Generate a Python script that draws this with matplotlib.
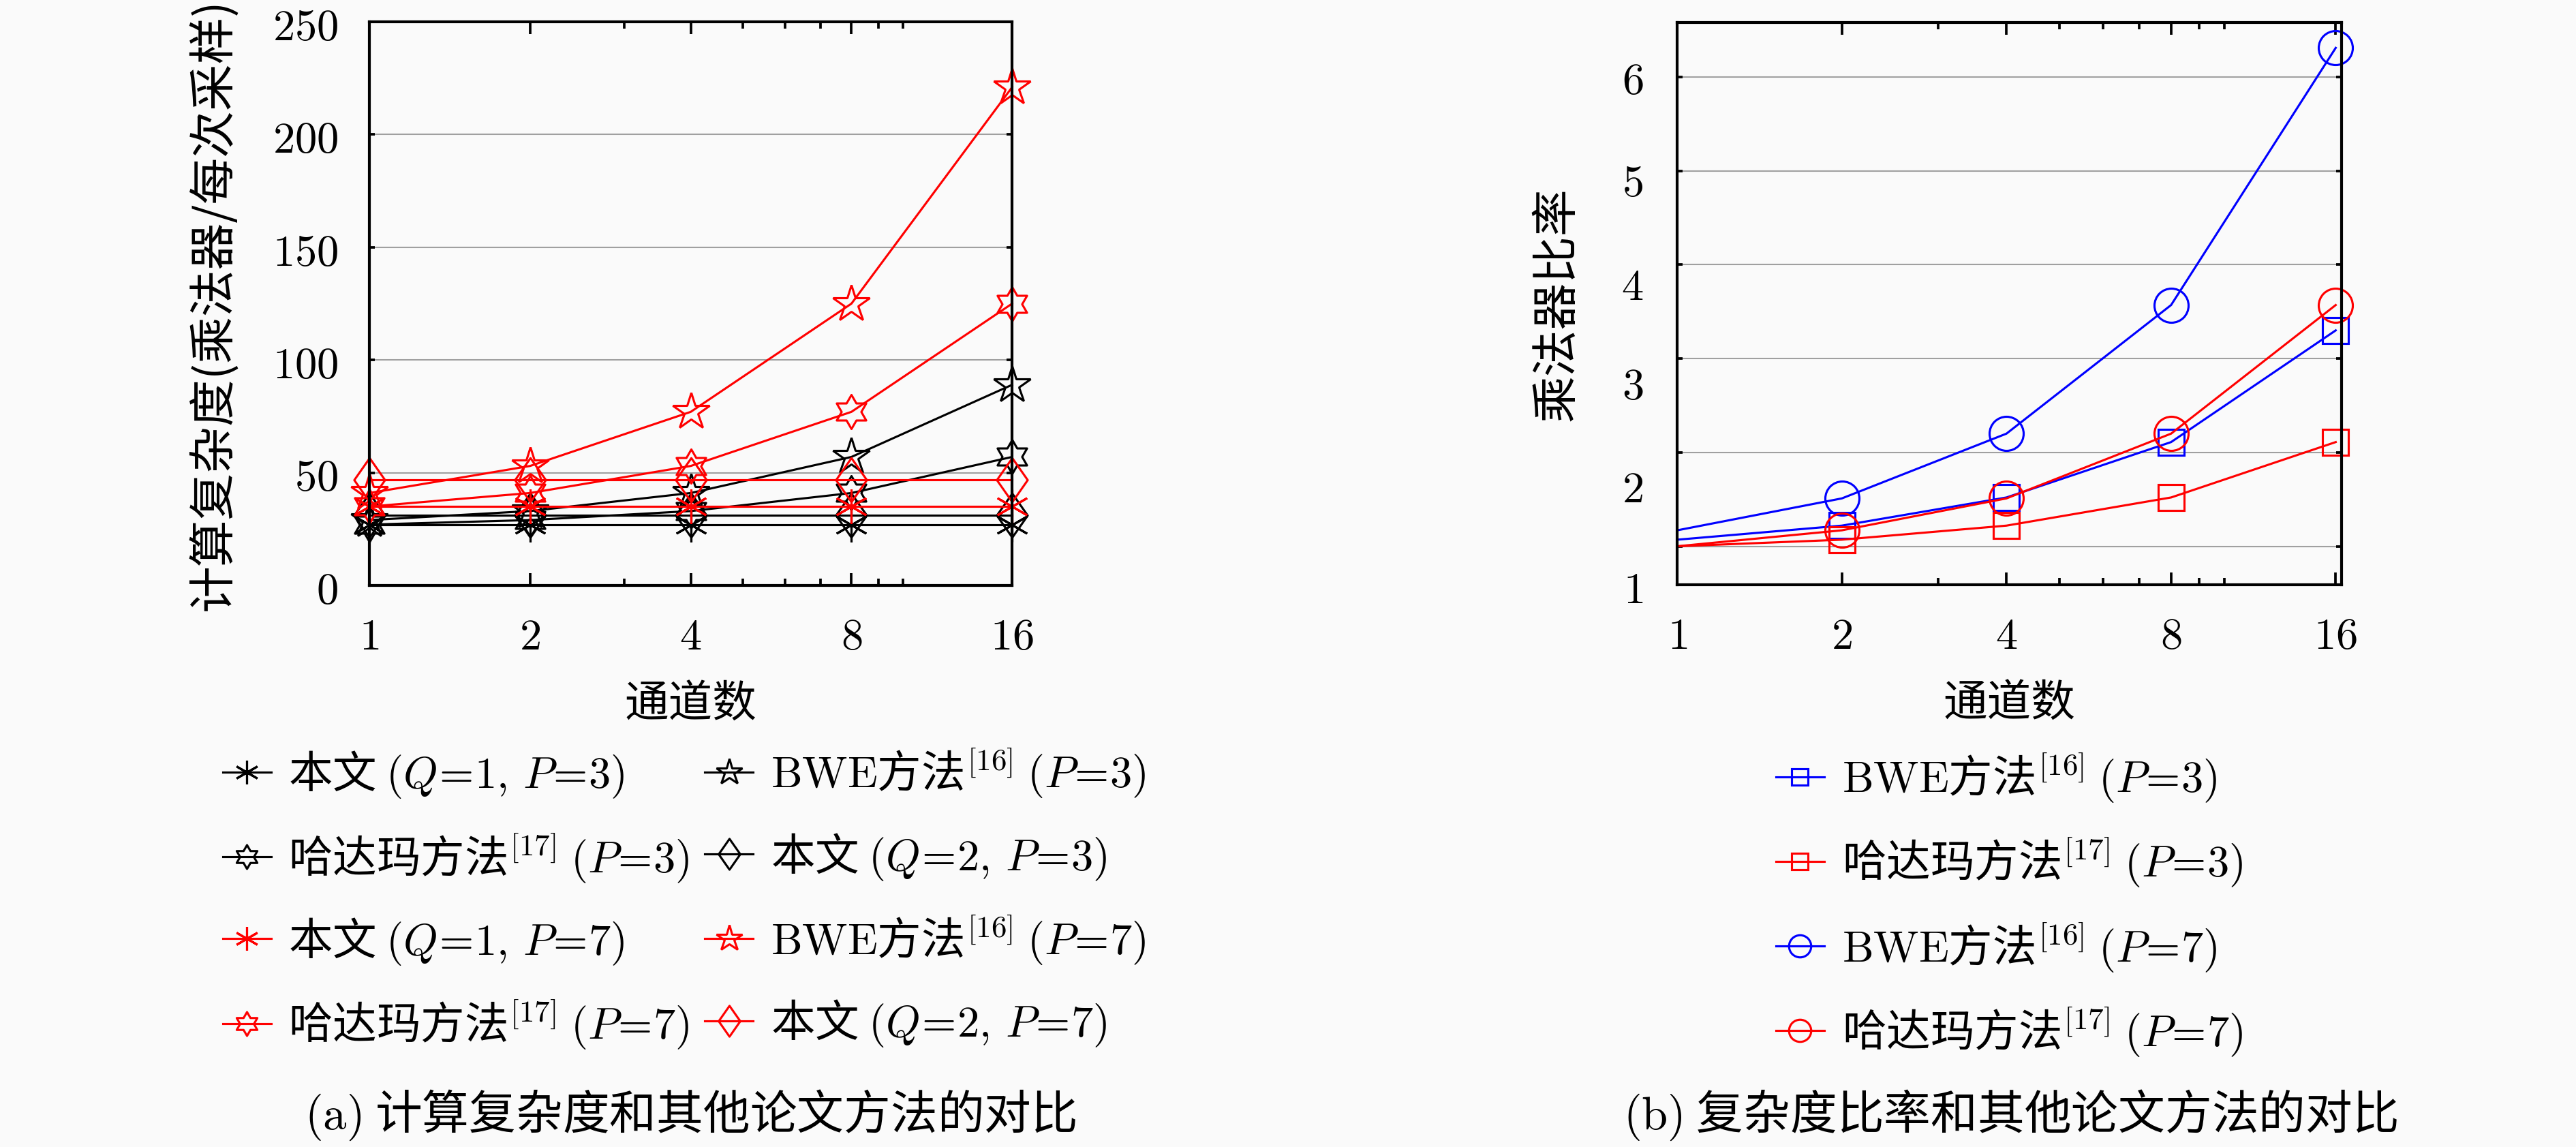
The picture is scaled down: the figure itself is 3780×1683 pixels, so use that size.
import matplotlib
matplotlib.use("Agg")
import matplotlib.pyplot as plt
from matplotlib.path import Path
from matplotlib.ticker import FixedLocator, FixedFormatter, NullFormatter

# channel counts on the x axis
channels = [1, 2, 4, 8, 16]
channel_labels = ["$1$", "$2$", "$4$", "$8$", "$16$"]
minor_channels = [3, 5, 6, 7, 9, 10]

# (a) multipliers per sample
ours_q1_p3 = [27, 27, 27, 27, 27]
bwe_p3 = [29, 33, 41, 57, 89]
hadamard_p3 = [27, 29, 33, 41, 57]
ours_q2_p3 = [31, 31, 31, 31, 31]
ours_q1_p7 = [35, 35, 35, 35, 35]
bwe_p7 = [41, 53, 77, 125, 221]
hadamard_p7 = [35, 41, 53, 77, 125]
ours_q2_p7 = [47, 47, 47, 47, 47]
yticks_a = [0, 50, 100, 150, 200, 250]

# (b) multiplier ratio
bwe_p3_ratio = [1.07, 1.22, 1.52, 2.11, 3.30]
hadamard_p3_ratio = [1.00, 1.07, 1.22, 1.52, 2.11]
bwe_p7_ratio = [1.17, 1.51, 2.20, 3.57, 6.31]
hadamard_p7_ratio = [1.00, 1.17, 1.51, 2.20, 3.57]
grid_b = [1, 2, 3, 4, 5, 6]
# tick labels of (b) sit off the grid lines in the original figure
ylabel_pos_b = [0.59, 1.66, 2.76, 3.82, 4.92, 6.01]
ylabel_txt_b = ["$1$", "$2$", "$3$", "$4$", "$5$", "$6$"]

BG = "#fafafa"
plt.rcParams["font.family"] = ["Noto Sans CJK SC", "DejaVu Sans"]
plt.rcParams["mathtext.fontset"] = "cm"
plt.rcParams["font.size"] = 15.5
plt.rcParams["axes.unicode_minus"] = False

HEXAGRAM = Path.unit_regular_star(6, 0.57735)
DIAMOND = Path([(0, 1), (0.7, 0), (0, -1), (-0.7, 0), (0, 1)],
               [Path.MOVETO, Path.LINETO, Path.LINETO, Path.LINETO, Path.CLOSEPOLY])
ASTERISK = (6, 2, 0)

Q1P3 = r"本文 $(Q\!=\!1,\,P\!=\!3)$"
Q2P3 = r"本文 $(Q\!=\!2,\,P\!=\!3)$"
Q1P7 = r"本文 $(Q\!=\!1,\,P\!=\!7)$"
Q2P7 = r"本文 $(Q\!=\!2,\,P\!=\!7)$"
BWE3 = r"$\mathrm{BWE}$方法$^{[16]}$ $(P\!=\!3)$"
BWE7 = r"$\mathrm{BWE}$方法$^{[16]}$ $(P\!=\!7)$"
HAD3 = r"哈达玛方法$^{[17]}$ $(P\!=\!3)$"
HAD7 = r"哈达玛方法$^{[17]}$ $(P\!=\!7)$"


def style_axes(ax, xmax):
    ax.set_facecolor(BG)
    ax.set_xscale("log", base=2)
    ax.set_xlim(1, xmax)
    ax.xaxis.set_major_locator(FixedLocator(channels))
    ax.xaxis.set_major_formatter(FixedFormatter(channel_labels))
    ax.xaxis.set_minor_locator(FixedLocator(minor_channels))
    ax.xaxis.set_minor_formatter(NullFormatter())
    ax.tick_params(axis="x", which="major", direction="in", top=True, length=4.3, width=0.9, pad=10)
    ax.tick_params(axis="x", which="minor", direction="in", top=True, length=2.4, width=0.9)
    ax.tick_params(axis="y", which="major", direction="in", right=True, length=2.0, width=0.9, pad=11)
    ax.grid(axis="y", which="major", color="#a0a0a0", linewidth=0.5)
    ax.set_axisbelow(True)
    for s in ax.spines.values():
        s.set_linewidth(1.0)
    ax.set_xlabel("通道数", labelpad=8)


fig = plt.figure(figsize=(12.6, 5.6133), dpi=300, facecolor=BG)

# ---- (a) complexity ----
ax1 = fig.add_axes([0.1434, 0.4893, 0.2495, 0.4911])
series_a = [
    (ours_q1_p3, "k", ASTERISK, 12, Q1P3),
    (hadamard_p3, "k", HEXAGRAM, 12, HAD3),
    (bwe_p3, "k", "*", 13.5, BWE3),
    (ours_q2_p3, "k", DIAMOND, 15.5, Q2P3),
    (ours_q1_p7, "r", ASTERISK, 12, Q1P7),
    (hadamard_p7, "r", HEXAGRAM, 12, HAD7),
    (bwe_p7, "r", "*", 13.5, BWE7),
    (ours_q2_p7, "r", DIAMOND, 15.5, Q2P7),
]
lines_a = []
for vals, c, m, ms, lab in series_a:
    (ln,) = ax1.plot(channels, vals, color=c, marker=m, markersize=ms, mfc="none",
                     mec=c, mew=0.75, linewidth=0.75, label=lab, clip_on=False)
    lines_a.append(ln)
style_axes(ax1, 16)
ax1.set_ylim(0, 250)
ax1.set_yticks(yticks_a)
ax1.set_yticklabels([f"${v}$" for v in yticks_a])
ax1.set_ylabel("计算复杂度(乘法器/每次采样)", fontsize=16.5, labelpad=12)

# legend: column 1 then column 2
order_a = [0, 1, 4, 5, 2, 3, 6, 7]
fig.legend([lines_a[i] for i in order_a], [series_a[i][4] for i in order_a], ncol=2,
           loc="upper left", bbox_to_anchor=(0.071, 0.384), frameon=False, handlelength=1.1,
           handletextpad=0.4, columnspacing=0.35, labelspacing=0.7, markerscale=0.7)

# ---- (b) ratio ----
ax2 = fig.add_axes([0.6511, 0.4899, 0.2579, 0.4899])
series_b = [
    (bwe_p3_ratio, "b", "s", 9, BWE3),
    (hadamard_p3_ratio, "r", "s", 9, HAD3),
    (bwe_p7_ratio, "b", "o", 12, BWE7),
    (hadamard_p7_ratio, "r", "o", 12, HAD7),
]
for vals, c, m, ms, lab in series_b:
    ax2.plot(channels, vals, color=c, marker=m, markersize=ms, mfc="none", mec=c,
             mew=0.75, linewidth=0.75, label=lab, markevery=slice(1, None), clip_on=False)
style_axes(ax2, 16.4)
ax2.set_ylim(0.59, 6.58)
ax2.set_yticks(grid_b)
ax2.set_yticklabels([])
ax2.yaxis.set_minor_locator(FixedLocator(ylabel_pos_b))
ax2.yaxis.set_minor_formatter(FixedFormatter(ylabel_txt_b))
ax2.tick_params(axis="y", which="minor", length=0, pad=12)
ax2.set_ylabel("乘法器比率", fontsize=16.5, labelpad=14)
ax2.legend(loc="upper left", bbox_to_anchor=(0.674, 0.38), bbox_transform=fig.transFigure,
           frameon=False, handlelength=1.1, handletextpad=0.4, labelspacing=0.7,
           markerscale=0.65)

fig.text(0.268, 0.0285, r"$\mathrm{(a)}$ 计算复杂度和其他论文方法的对比", ha="center", va="center",
         fontsize=16.5)
fig.text(0.7804, 0.0285, r"$\mathrm{(b)}$ 复杂度比率和其他论文方法的对比", ha="center", va="center",
         fontsize=16.5)

fig.savefig("out.png", dpi=300, facecolor=BG)
plt.close(fig)
